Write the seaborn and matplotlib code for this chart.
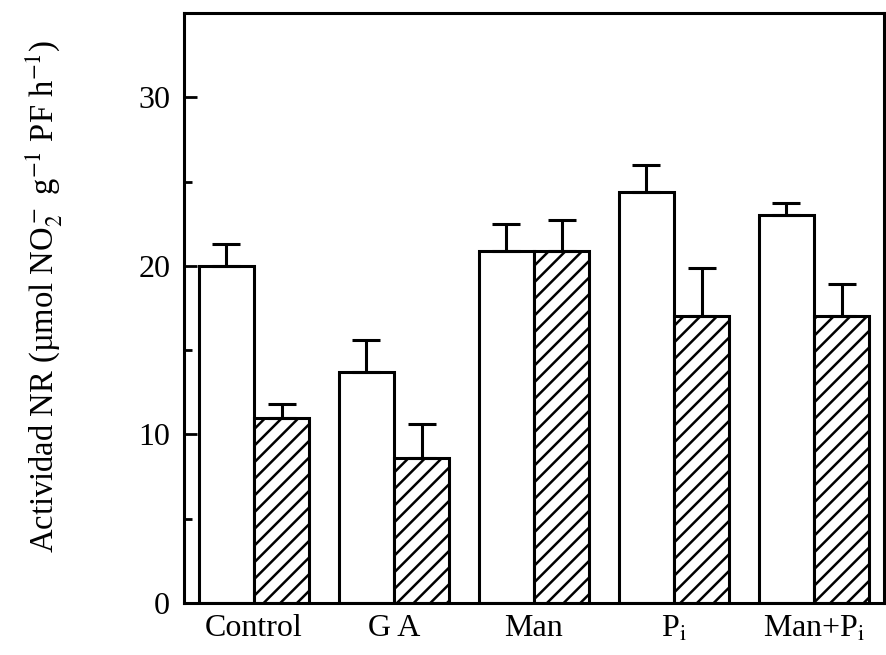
import matplotlib
matplotlib.use("Agg")
import matplotlib.pyplot as plt
from matplotlib.ticker import MultipleLocator
import numpy as np
import pandas as pd
import seaborn as sns

sns.set_style("ticks")
plt.rcParams['font.family'] = ['Liberation Serif', 'DejaVu Serif']
plt.rcParams['mathtext.fontset'] = 'stix'
plt.rcParams['hatch.linewidth'] = 1.8
for key in ['text.color', 'axes.labelcolor', 'xtick.color', 'ytick.color',
            'axes.edgecolor']:
    plt.rcParams[key] = 'black'

# --- data ---
groups = ['Control', 'G A', 'Man', r'P$_{\rm i}$', r'Man+P$_{\rm i}$']
treatments = ['sin', 'con']           # open bars / hatched bars
open_vals = [20.0, 13.7, 20.9, 24.4, 23.0]
open_err = [1.3, 1.9, 1.6, 1.6, 0.75]
hatch_vals = [11.0, 8.6, 20.9, 17.0, 17.0]
hatch_err = [0.8, 2.0, 1.8, 2.9, 1.9]

df = pd.DataFrame({
    'grupo': groups * 2,
    'trat': [treatments[0]] * 5 + [treatments[1]] * 5,
    'valor': open_vals + hatch_vals,
})

fig = plt.figure(figsize=(8.86, 6.55), dpi=100)
ax = fig.add_axes([0.2077, 0.0794, 0.79, 0.9006])

sns.barplot(data=df, x='grupo', y='valor', hue='trat', order=groups,
            hue_order=treatments, palette=['white', 'white'],
            edgecolor='black', linewidth=2.2, width=0.79, gap=0,
            errorbar=None, legend=False, ax=ax)

# hatch the second series and add upper-only error bars
errs = [open_err, hatch_err]
bar_sets = list(ax.containers)
for i, cont in enumerate(bar_sets):
    xs, tops = [], []
    for bar in cont:
        if i == 1:
            bar.set_hatch('//')
        xs.append(bar.get_x() + bar.get_width() / 2)
        tops.append(bar.get_height())
    ax.errorbar(xs, tops, yerr=[np.zeros(len(xs)), errs[i]], fmt='none',
                ecolor='black', elinewidth=2.2, capsize=10, capthick=2.2,
                zorder=1)

ax.set_ylim(0, 35)
ax.set_xlim(-0.5, 4.5)
ax.yaxis.set_major_locator(MultipleLocator(10))
ax.yaxis.set_minor_locator(MultipleLocator(5))
ax.tick_params(axis='y', which='major', direction='in', length=9.5, width=2,
               labelsize=23, pad=10)
ax.tick_params(axis='y', which='minor', direction='in', length=6, width=2)
ax.tick_params(axis='x', length=0, labelsize=23, pad=8)
for s in ax.spines.values():
    s.set_linewidth(2.2)
    s.set_visible(True)

ax.set_xlabel('')
ax.set_ylabel(r'Actividad NR (µmol NO$_2^-$ g$^{-1}$ PF h$^{-1}$)',
              fontsize=23.5)
ax.yaxis.set_label_coords(-0.17, 0.52)

fig.savefig('out.png', dpi=100)
